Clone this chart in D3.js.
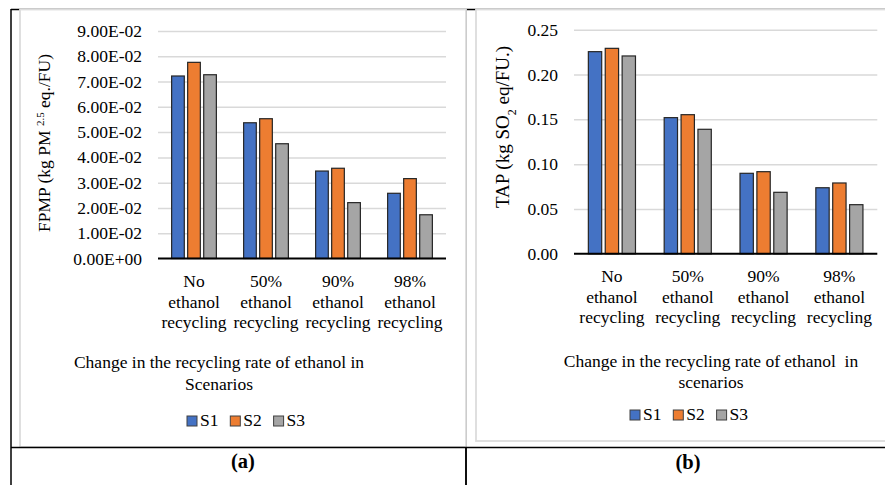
<!DOCTYPE html>
<html>
<head>
<meta charset="utf-8">
<script src="https://cdn.jsdelivr.net/npm/d3@7"></script>
<style>
  body { margin: 0; background: #fff; }
</style>
</head>
<body>
<svg id="fig" width="885" height="485" font-family="Liberation Serif"></svg>
<script>
// categories and series
const categories = ["No ethanol recycling", "50% ethanol recycling", "90% ethanol recycling", "98% ethanol recycling"];
const series = ["S1", "S2", "S3"];
const colors = ["#4472C4", "#ED7D31", "#A5A5A5"];

// FPMP values, panel (a)
const fpmpS1 = [0.0722, 0.0537, 0.0346, 0.0258];
const fpmpS2 = [0.0776, 0.0553, 0.0357, 0.0316];
const fpmpS3 = [0.0727, 0.0454, 0.0221, 0.0173];
const fpmpTicks = [0, 0.01, 0.02, 0.03, 0.04, 0.05, 0.06, 0.07, 0.08, 0.09];

// TAP values, panel (b)
const tapS1 = [0.2255, 0.1519, 0.0898, 0.0737];
const tapS2 = [0.2292, 0.1552, 0.0916, 0.0790];
const tapS3 = [0.2207, 0.1389, 0.0686, 0.0548];
const tapTicks = [0, 0.05, 0.10, 0.15, 0.20, 0.25];

const svg = d3.select("#fig");
const font = "Liberation Serif";
const fontSize = 17.5;

// table lines behind the charts
const table = svg.append("g").attr("stroke", "#000").attr("stroke-width", 1.5);
table.append("line").attr("x1", 11).attr("x2", 885).attr("y1", 9.5).attr("y2", 9.5);
table.append("line").attr("x1", 11).attr("x2", 11).attr("y1", 9).attr("y2", 485);
table.append("line").attr("x1", 466).attr("x2", 466).attr("y1", 9).attr("y2", 485);

// "E" notation like Excel: 9.00E-02
function sci(v) {
  const parts = v.toExponential(2).split("e");
  const e = parseInt(parts[1], 10);
  return parts[0] + "E" + (e < 0 ? "-" : "+") + String(Math.abs(e)).padStart(2, "0");
}

function drawPanel(p) {
  const g = svg.append("g");

  // chart frame
  g.append("rect")
    .attr("x", p.frame[0]).attr("y", p.frame[1])
    .attr("width", p.frame[2]).attr("height", p.frame[3])
    .attr("fill", "#fff").attr("stroke", "#dcdcdc").attr("stroke-width", 1.8);

  const x = d3.scaleBand().domain(categories).range([p.left, p.right]);
  const x1 = d3.scaleBand().domain(series).range([0, x.bandwidth()])
    .paddingInner(0.21).paddingOuter(0.85);
  const y = d3.scaleLinear().domain([0, p.ticks[p.ticks.length - 1]]).range([p.bottom, p.top]);

  // gridlines
  g.append("g")
    .attr("transform", `translate(${p.left},0)`)
    .call(d3.axisLeft(y).tickValues(p.ticks.slice(1)).tickSize(-(p.right - p.left)).tickFormat(""))
    .call(a => a.select(".domain").remove())
    .call(a => a.selectAll("line").attr("stroke", "#d9d9d9").attr("stroke-width", 1.5));

  // tick labels
  g.append("g")
    .attr("transform", `translate(${p.left},0)`)
    .call(d3.axisLeft(y).tickValues(p.ticks).tickSize(0).tickPadding(16).tickFormat(p.fmt))
    .attr("font-size", fontSize)
    .call(a => a.select(".domain").remove())
    .call(a => a.selectAll("text").attr("fill", "#000"));

  // bars
  const rows = categories.map((c, i) => series.map((s, j) => ({cat: c, s: s, j: j, v: p.values[j][i]})));
  g.append("g").selectAll("g").data(rows).join("g")
    .attr("transform", d => `translate(${x(d[0].cat)},0)`)
    .selectAll("rect").data(d => d).join("rect")
      .attr("x", d => x1(d.s))
      .attr("width", x1.bandwidth())
      .attr("y", d => y(d.v))
      .attr("height", d => y(0) - y(d.v))
      .attr("fill", d => colors[d.j])
      .attr("stroke", "#262626").attr("stroke-width", 1.2);

  // baseline
  g.append("line")
    .attr("x1", p.left).attr("x2", p.right)
    .attr("y1", y(0)).attr("y2", y(0))
    .attr("stroke", "#000").attr("stroke-width", 2);

  // category labels
  g.append("g")
    .attr("transform", `translate(0,${p.catY})`)
    .call(d3.axisBottom(x).tickSize(0).tickPadding(0))
    .attr("font-size", fontSize)
    .call(a => a.select(".domain").remove())
    .call(a => a.selectAll(".tick text").each(function(d) {
      const t = d3.select(this).text(null).attr("fill", "#000").attr("dy", null).attr("y", 0);
      d.split(" ").forEach((w, k) => {
        t.append("tspan").attr("x", 0).attr("y", k * 20.5).text(w);
      });
    }));

  // y axis title
  const yt = g.append("text")
    .attr("transform", `translate(${p.yTitle[0]},${p.yTitle[1]}) rotate(-90)`)
    .attr("text-anchor", "middle").attr("font-size", p.yTitleSize);
  p.yTitleParts.forEach(part => {
    const ts = yt.append("tspan").text(part.t);
    if (part.sup) ts.attr("font-size", 11).attr("baseline-shift", "super");
    if (part.sub) ts.attr("font-size", 12).attr("baseline-shift", "sub");
  });

  // x axis title
  p.xTitle.forEach((line, k) => {
    g.append("text")
      .attr("x", p.xTitleX).attr("y", p.xTitleY + k * 21.5)
      .attr("text-anchor", "middle").attr("font-size", fontSize)
      .attr("xml:space", "preserve")
      .text(line);
  });

  // legend
  const lg = g.append("g").attr("transform", `translate(${p.legend[0]},${p.legend[1]})`);
  series.forEach((s, j) => {
    lg.append("rect")
      .attr("x", j * 43.3).attr("y", -10)
      .attr("width", 10).attr("height", 10)
      .attr("fill", colors[j]).attr("stroke", "#404040").attr("stroke-width", 1);
    lg.append("text")
      .attr("x", j * 43.3 + 13).attr("y", 0)
      .attr("font-size", fontSize).text(s);
  });

  // panel letter
  g.append("text")
    .attr("x", p.letter[0]).attr("y", p.letter[1])
    .attr("text-anchor", "middle").attr("font-size", 20.5).attr("font-weight", "bold")
    .text(p.letter[2]);
}

drawPanel({
  frame: [20, 9.5, 446, 437.5],
  left: 158, right: 446, top: 31, bottom: 258.5,
  ticks: fpmpTicks, fmt: sci,
  values: [fpmpS1, fpmpS2, fpmpS3],
  catY: 287,
  yTitle: [50, 143], yTitleSize: 17.5,
  yTitleParts: [{t: "FPMP (kg PM "}, {t: "2.5", sup: true}, {t: " eq./FU)"}],
  xTitle: ["Change in the recycling rate of ethanol in", "Scenarios"],
  xTitleX: 219, xTitleY: 368,
  legend: [187, 426],
  letter: [243, 468, "(a)"]
});

drawPanel({
  frame: [476, 9.5, 412, 431.5],
  left: 574, right: 877.3, top: 29.7, bottom: 253.8,
  ticks: tapTicks, fmt: d3.format(".2f"),
  values: [tapS1, tapS2, tapS3],
  catY: 282,
  yTitle: [509, 127], yTitleSize: 19,
  yTitleParts: [{t: "TAP (kg SO"}, {t: "2", sub: true}, {t: " eq/FU.)"}],
  xTitle: ["Change in the recycling rate of ethanol  in", "scenarios"],
  xTitleX: 711, xTitleY: 366.5,
  legend: [630, 420],
  letter: [688, 469, "(b)"]
});

// table line under the charts
svg.append("line").attr("x1", 11).attr("x2", 885).attr("y1", 447.5).attr("y2", 447.5)
  .attr("stroke", "#000").attr("stroke-width", 1.5);
svg.append("line").attr("x1", 466).attr("x2", 466).attr("y1", 447).attr("y2", 485)
  .attr("stroke", "#000").attr("stroke-width", 1.5);

// same serif face on every text, axis groups included
svg.selectAll("g").attr("font-family", null);
svg.selectAll("text").attr("font-family", font);
</script>
</body>
</html>
